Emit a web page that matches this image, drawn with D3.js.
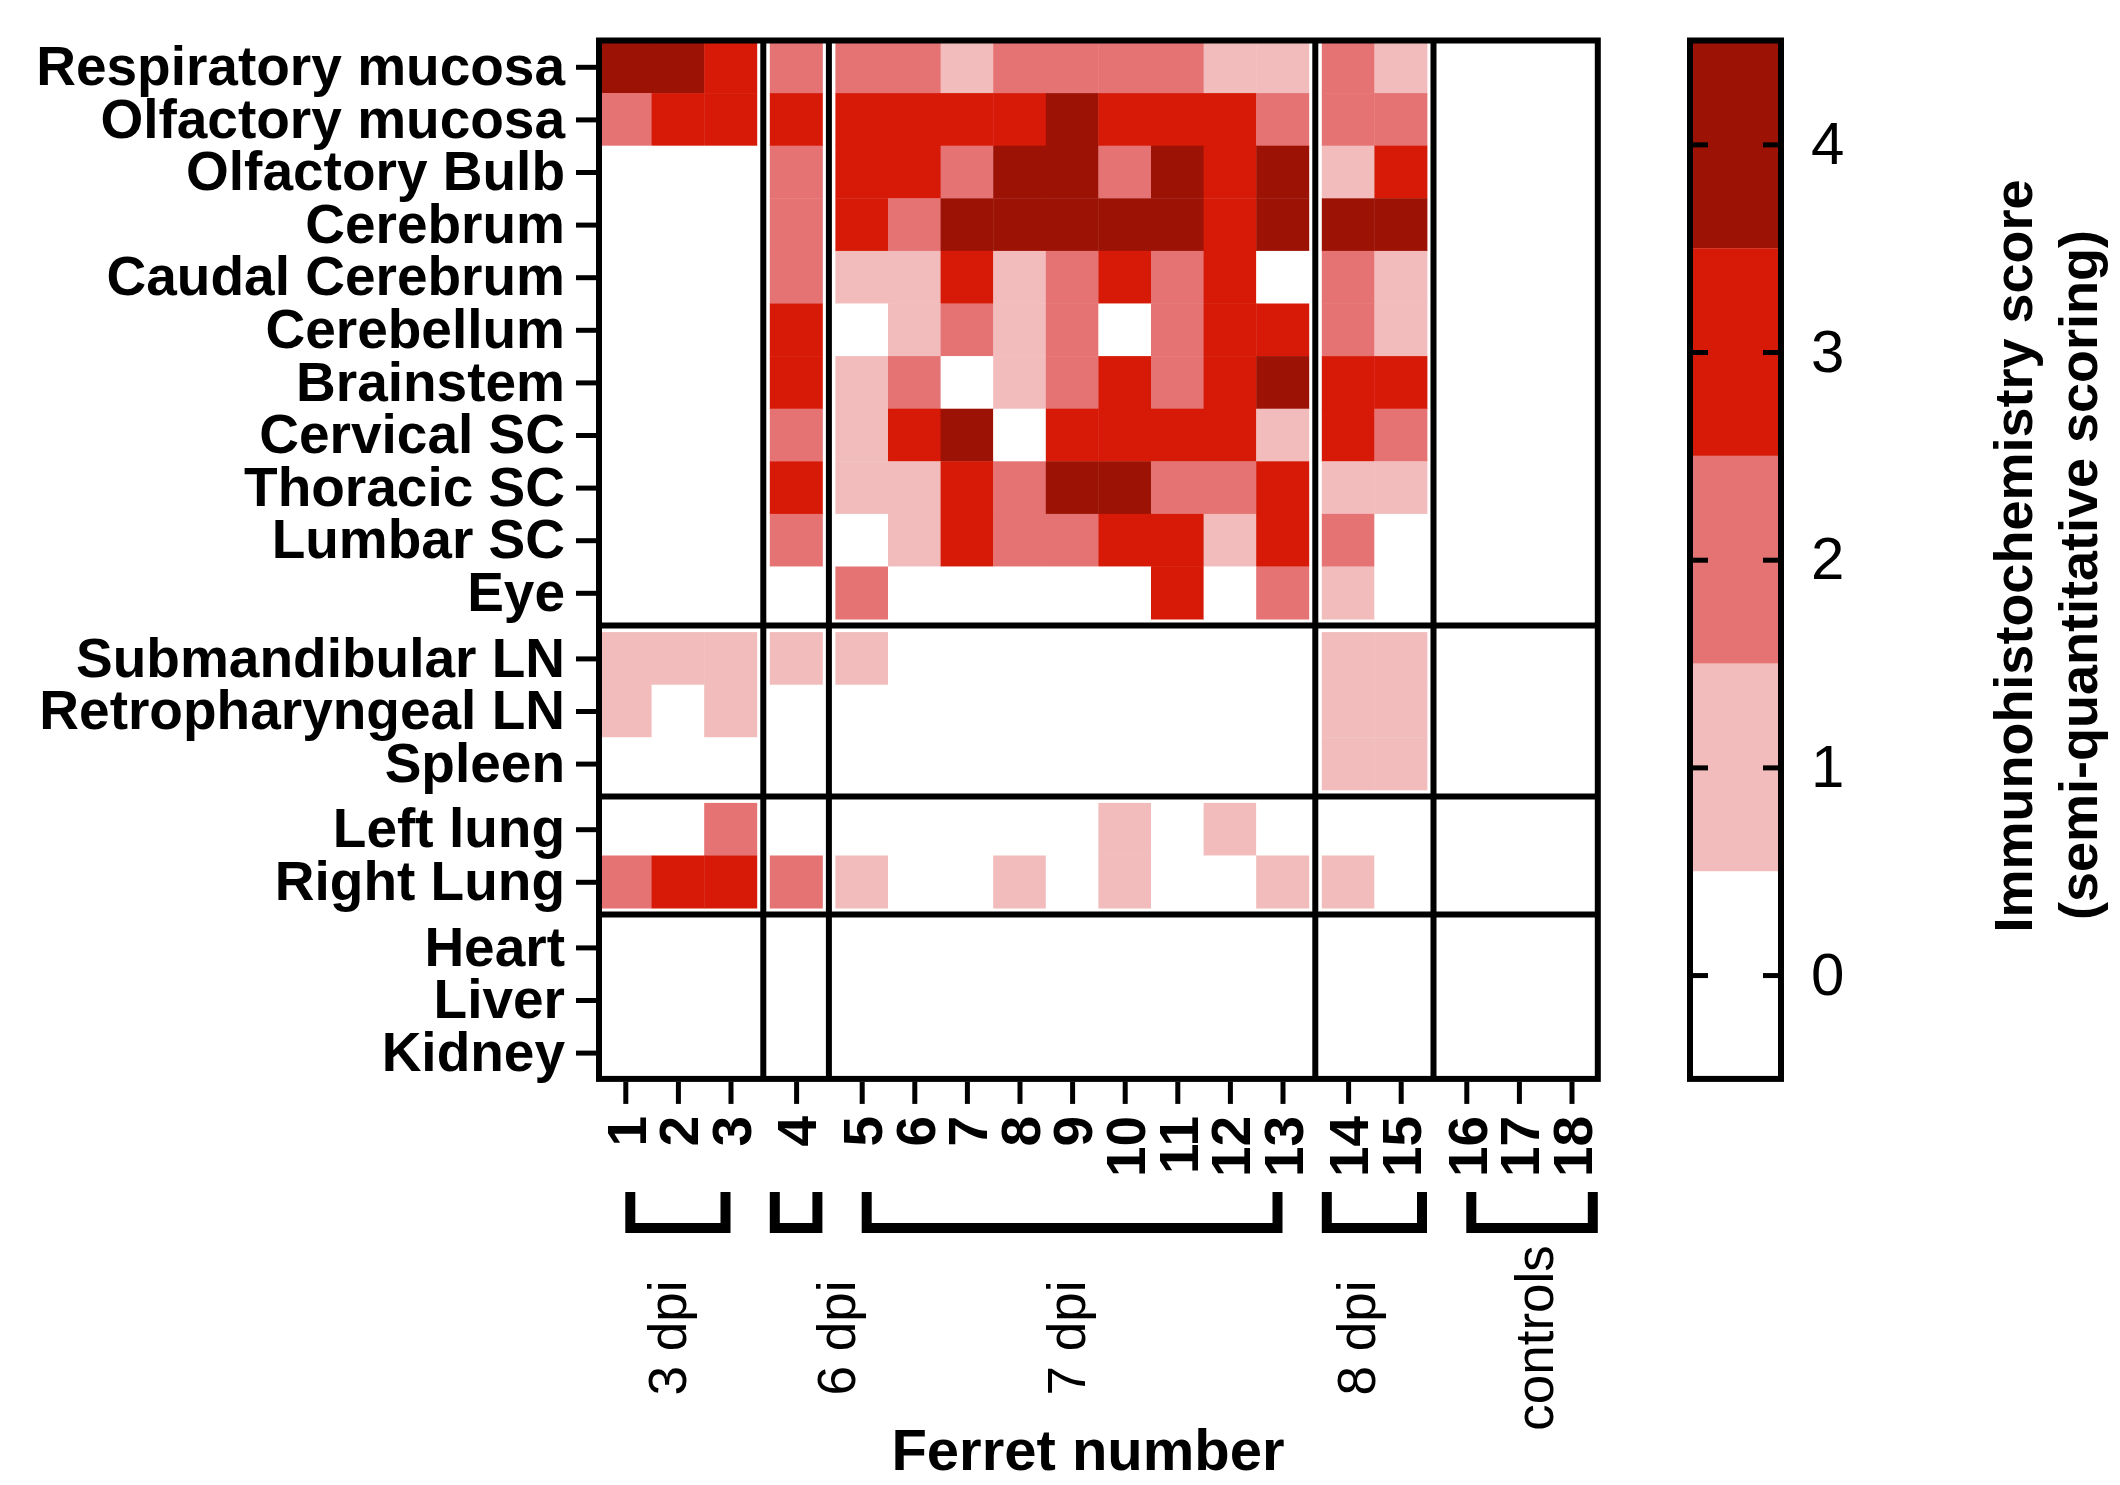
<!DOCTYPE html>
<html>
<head>
<meta charset="utf-8">
<script src="https://cdnjs.cloudflare.com/ajax/libs/d3/7.8.5/d3.min.js"></script>
<style>
  html, body { margin: 0; padding: 0; background: #fff; }
  svg { display: block; font-family: "Liberation Sans", Arial, Helvetica, sans-serif; }
</style>
</head>
<body>
<svg id="chart" width="2120" height="1485"></svg>
<script>
// rows, top to bottom
const tissues = [
    'Respiratory mucosa', 'Olfactory mucosa', 'Olfactory Bulb', 'Cerebrum',
    'Caudal Cerebrum', 'Cerebellum', 'Brainstem', 'Cervical SC', 'Thoracic SC',
    'Lumbar SC', 'Eye',
    'Submandibular LN', 'Retropharyngeal LN', 'Spleen',
    'Left lung', 'Right Lung',
    'Heart', 'Liver', 'Kidney'
];
const tissueBlocks = [11, 3, 2, 3];

// columns
const ferrets = ['1', '2', '3', '4', '5', '6', '7', '8', '9', '10', '11', '12', '13', '14', '15', '16', '17', '18'];
const ferretGroups = ['3 dpi', '6 dpi', '7 dpi', '8 dpi', 'controls'];
const ferretGroupSizes = [3, 1, 9, 2, 3];

// immunohistochemistry score per tissue (row) and ferret (column)
const scores = [
    [4, 4, 3, 2, 2, 2, 1, 2, 2, 2, 2, 1, 1, 2, 1, 0, 0, 0],
    [2, 3, 3, 3, 3, 3, 3, 3, 4, 3, 3, 3, 2, 2, 2, 0, 0, 0],
    [0, 0, 0, 2, 3, 3, 2, 4, 4, 2, 4, 3, 4, 1, 3, 0, 0, 0],
    [0, 0, 0, 2, 3, 2, 4, 4, 4, 4, 4, 3, 4, 4, 4, 0, 0, 0],
    [0, 0, 0, 2, 1, 1, 3, 1, 2, 3, 2, 3, 0, 2, 1, 0, 0, 0],
    [0, 0, 0, 3, 0, 1, 2, 1, 2, 0, 2, 3, 3, 2, 1, 0, 0, 0],
    [0, 0, 0, 3, 1, 2, 0, 1, 2, 3, 2, 3, 4, 3, 3, 0, 0, 0],
    [0, 0, 0, 2, 1, 3, 4, 0, 3, 3, 3, 3, 1, 3, 2, 0, 0, 0],
    [0, 0, 0, 3, 1, 1, 3, 2, 4, 4, 2, 2, 3, 1, 1, 0, 0, 0],
    [0, 0, 0, 2, 0, 1, 3, 2, 2, 3, 3, 1, 3, 2, 0, 0, 0, 0],
    [0, 0, 0, 0, 2, 0, 0, 0, 0, 0, 3, 0, 2, 1, 0, 0, 0, 0],
    [1, 1, 1, 1, 1, 0, 0, 0, 0, 0, 0, 0, 0, 1, 1, 0, 0, 0],
    [1, 0, 1, 0, 0, 0, 0, 0, 0, 0, 0, 0, 0, 1, 1, 0, 0, 0],
    [0, 0, 0, 0, 0, 0, 0, 0, 0, 0, 0, 0, 0, 1, 1, 0, 0, 0],
    [0, 0, 2, 0, 0, 0, 0, 0, 0, 1, 0, 1, 0, 0, 0, 0, 0, 0],
    [2, 3, 3, 2, 1, 0, 0, 1, 0, 1, 0, 0, 1, 1, 0, 0, 0, 0],
    [0, 0, 0, 0, 0, 0, 0, 0, 0, 0, 0, 0, 0, 0, 0, 0, 0, 0],
    [0, 0, 0, 0, 0, 0, 0, 0, 0, 0, 0, 0, 0, 0, 0, 0, 0, 0],
    [0, 0, 0, 0, 0, 0, 0, 0, 0, 0, 0, 0, 0, 0, 0, 0, 0, 0]
];

const scoreLevels = [0, 1, 2, 3, 4];
const scoreColors = ['#ffffff', '#f2bcbc', '#e57373', '#d61a07', '#9c1306'];

const xTitle = 'Ferret number';
const colorbarTitle = ['Immunohistochemistry score', '(semi-quantitative scoring)'];

document.addEventListener('DOMContentLoaded', function() {
    let svg = d3.select('#chart');

    // layout
    const cell = 52.6, gap = 13, gapFrac = gap / cell;
    const left = 599, top = 40.5;
    const lineW = 6;
    const fontBold = 55;

    // slot index of each row / column, with a gap between blocks
    function slots(sizes) {
        let out = [];
        sizes.forEach((n, b) => {
            for (let k = 0; k < n; k++) out.push(out.length + b * gapFrac);
        });
        return out;
    }
    let colSlot = slots(ferretGroupSizes);
    let rowSlot = slots(tissueBlocks);
    let nCol = ferrets.length + (ferretGroupSizes.length - 1) * gapFrac;
    let nRow = tissues.length + (tissueBlocks.length - 1) * gapFrac;

    let xScale = d3.scaleLinear().domain([0, nCol]).range([left, left + nCol * cell]);
    let yScale = d3.scaleLinear().domain([0, nRow]).range([top, top + nRow * cell]);
    let color = d3.scaleOrdinal().domain(scoreLevels).range(scoreColors);

    let right = xScale(nCol), bottom = yScale(nRow);

    // cells
    let cellData = [];
    scores.forEach((row, r) => row.forEach((v, c) => cellData.push({r: r, c: c, v: v})));

    svg.append('g').selectAll('rect')
        .data(cellData)
        .enter()
        .append('rect')
        .attr('x', d => xScale(colSlot[d.c]))
        .attr('y', d => yScale(rowSlot[d.r]))
        .attr('width', xScale(1) - xScale(0) + 0.4)
        .attr('height', yScale(1) - yScale(0) + 0.4)
        .attr('fill', d => color(d.v));

    // block separators
    function blockStarts(sizes) {
        let starts = [], i = 0;
        sizes.forEach(n => { starts.push(i); i += n; });
        return starts.slice(1);
    }
    svg.append('g').selectAll('line')
        .data(blockStarts(ferretGroupSizes))
        .enter()
        .append('line')
        .attr('x1', i => xScale(colSlot[i] - gapFrac / 2))
        .attr('x2', i => xScale(colSlot[i] - gapFrac / 2))
        .attr('y1', top)
        .attr('y2', bottom)
        .attr('stroke', '#000')
        .attr('stroke-width', lineW);
    svg.append('g').selectAll('line')
        .data(blockStarts(tissueBlocks))
        .enter()
        .append('line')
        .attr('y1', i => yScale(rowSlot[i] - gapFrac / 2))
        .attr('y2', i => yScale(rowSlot[i] - gapFrac / 2))
        .attr('x1', left)
        .attr('x2', right)
        .attr('stroke', '#000')
        .attr('stroke-width', lineW);

    svg.append('rect')
        .attr('x', left)
        .attr('y', top)
        .attr('width', right - left)
        .attr('height', bottom - top)
        .attr('fill', 'none')
        .attr('stroke', '#000')
        .attr('stroke-width', lineW);

    function styleAxis(g, size, weight) {
        g.attr('font-family', null).attr('font-size', null);
        g.select('.domain').remove();
        g.selectAll('.tick line').attr('stroke', '#000').attr('stroke-width', 5);
        g.selectAll('.tick text')
            .attr('fill', '#000')
            .style('font-size', size + 'px')
            .style('font-weight', weight);
    }

    // y axis: tissue names
    let yRows = d3.scaleOrdinal().domain(tissues).range(rowSlot.map(s => yScale(s + 0.5)));
    svg.append('g')
        .attr('transform', `translate(${left - lineW / 2},0)`)
        .call(d3.axisLeft(yRows).tickSize(20).tickPadding(11))
        .call(g => styleAxis(g, fontBold, 'bold'));

    // x axis: ferret numbers, rotated
    let xCols = d3.scaleOrdinal().domain(ferrets).range(colSlot.map(s => xScale(s + 0.5)));
    svg.append('g')
        .attr('transform', `translate(0,${bottom + lineW / 2})`)
        .call(d3.axisBottom(xCols).tickSize(22))
        .call(g => styleAxis(g, fontBold, 'bold'))
        .call(g => g.selectAll('.tick text')
            .attr('transform', 'rotate(-90)')
            .attr('text-anchor', 'end')
            .attr('x', -34)
            .attr('y', 0)
            .attr('dy', '0.36em'));

    // group brackets under the ferret numbers
    const bracketInset = [[0.5, 0.5], [0, 0], [0.5, 0.5], [0, 0], [0.5, 0]];
    const labelShift = [-10, 40, -6, -18, 2];
    const bracketTop = 1192, bracketBottom = 1228, bracketW = 10;
    let firstCol = 0;
    let groupData = ferretGroups.map((name, g) => {
        let first = firstCol, last = firstCol + ferretGroupSizes[g] - 1;
        firstCol += ferretGroupSizes[g];
        let x1 = xScale(colSlot[first] + bracketInset[g][0]) + bracketW / 2;
        let x2 = xScale(colSlot[last] + 1 - bracketInset[g][1]) - bracketW / 2;
        return {name: name, x1: x1, x2: x2, lx: (x1 + x2) / 2 + labelShift[g]};
    });

    svg.append('g').selectAll('path')
        .data(groupData)
        .enter()
        .append('path')
        .attr('d', d => `M${d.x1},${bracketTop}V${bracketBottom}H${d.x2}V${bracketTop}`)
        .attr('fill', 'none')
        .attr('stroke', '#000')
        .attr('stroke-width', bracketW)
        .attr('stroke-linejoin', 'miter');

    svg.append('g').selectAll('text')
        .data(groupData)
        .enter()
        .append('text')
        .attr('transform', d => `translate(${d.lx},1338) rotate(-90)`)
        .attr('text-anchor', 'middle')
        .attr('dominant-baseline', 'central')
        .style('font-size', '53px')
        .text(d => d.name);

    svg.append('text')
        .attr('x', 1088)
        .attr('y', 1470)
        .attr('text-anchor', 'middle')
        .style('font-size', '58px')
        .style('font-weight', 'bold')
        .text(xTitle);

    // colour bar
    const cbLeft = 1690, cbRight = 1781;
    let cbScale = d3.scaleLinear().domain([-0.5, 4.5]).range([bottom, top]);

    svg.append('g').selectAll('rect')
        .data(scoreLevels)
        .enter()
        .append('rect')
        .attr('x', cbLeft)
        .attr('y', d => cbScale(d + 0.5))
        .attr('width', cbRight - cbLeft)
        .attr('height', d => cbScale(d - 0.5) - cbScale(d + 0.5))
        .attr('fill', d => color(d));

    svg.append('rect')
        .attr('x', cbLeft)
        .attr('y', top)
        .attr('width', cbRight - cbLeft)
        .attr('height', bottom - top)
        .attr('fill', 'none')
        .attr('stroke', '#000')
        .attr('stroke-width', lineW);

    svg.append('g')
        .attr('transform', `translate(${cbLeft},0)`)
        .call(d3.axisLeft(cbScale).tickValues(scoreLevels).tickSize(-18).tickFormat(''))
        .call(g => styleAxis(g, 10, 'normal'));

    svg.append('g')
        .attr('transform', `translate(${cbRight},0)`)
        .call(d3.axisRight(cbScale).tickValues(scoreLevels).tickSize(-18).tickPadding(30).tickFormat(d3.format('d')))
        .call(g => styleAxis(g, 60, 'normal'));

    svg.append('g').selectAll('text')
        .data(colorbarTitle)
        .enter()
        .append('text')
        .attr('transform', (d, i) => `translate(${2032 + i * 65},${556 + i * 19}) rotate(-90)`)
        .attr('text-anchor', 'middle')
        .style('font-size', '54px')
        .style('font-weight', 'bold')
        .text(d => d);
});
</script>
</body>
</html>
